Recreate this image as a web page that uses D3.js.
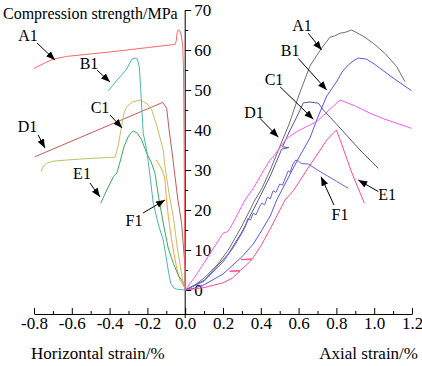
<html>
<head>
<style type="text/css">
	body { margin: 0; background: white; }
	svg text { font-family: "Liberation Serif", "DejaVu Serif", serif !important; fill: black; }
	.curve { fill: none; stroke-width: 1; }
	.axis path, .axis line { stroke: black; stroke-width: 1; }
	.note line { stroke: black; stroke-width: 1; }
</style>
<script src="https://d3js.org/d3.v7.min.js"></script>
</head>
<body>
<script type="text/javascript">

// horizontal strain side: [strain %, stress MPa]
var leftA1 = [[-0.80,55.4],[-0.75,56.6],[-0.70,57.7],[-0.627,58.4],[-0.4,59.5],[-0.2,60.6],[-0.054,61.4],
	[-0.047,62.3],[-0.043,64.3],[-0.036,65.0],[-0.028,64.8],[-0.02,63.5],[-0.013,61],[-0.009,55],
	[-0.007,45],[-0.005,30],[-0.003,15],[-0.001,5],[0,0]];
var leftB1 = [[-0.407,49.8],[-0.36,52.5],[-0.313,55],[-0.29,57],[-0.28,57.8],[-0.265,58],[-0.253,57.7],
	[-0.243,55.8],[-0.235,50],[-0.222,39.2],[-0.204,35],[-0.19,30],[-0.169,21.7],[-0.14,16],[-0.116,12.5],
	[-0.09,5],[-0.077,1.7],[-0.06,0.5],[-0.045,0.2],[0,0]];
var leftC1 = [[-0.763,29.6],[-0.75,31],[-0.733,31.7],[-0.7,32.2],[-0.627,32.5],[-0.5,32.9],[-0.371,33.2],
	[-0.355,36],[-0.34,40],[-0.324,44.2],[-0.31,45.8],[-0.28,47],[-0.235,47.5],[-0.2,46.5],[-0.177,45],
	[-0.15,41],[-0.116,35],[-0.107,30.8],[-0.085,24],[-0.063,18.3],[-0.04,10],[-0.013,2.5],[0,0]];
var leftD1 = [[-0.796,33.3],[-0.119,46.9],[-0.098,45.4],[-0.085,40],[-0.071,35],[-0.06,30.8],[-0.04,23],
	[-0.019,16.7],[-0.008,10],[0,5],[0,0]];
var leftE1 = [[-0.447,21.7],[-0.415,25],[-0.38,28.3],[-0.362,29.2],[-0.345,32],[-0.324,35.8],[-0.3,38.5],
	[-0.275,39.8],[-0.253,39.2],[-0.23,37.5],[-0.204,34.2],[-0.18,32],[-0.16,29.2],[-0.14,23],[-0.116,16.7],
	[-0.09,10.5],[-0.063,6.7],[-0.035,3.5],[-0.013,2.1],[0,0]];
var leftF1 = [[-0.154,32.5],[-0.142,31.7],[-0.128,30.5],[-0.116,29.2],[-0.107,27.5],[-0.1,23],[-0.089,18.3],
	[-0.075,13.5],[-0.063,10],[-0.045,5.5],[-0.028,2.5],[-0.01,1.2],[0,0.8]];

// axial strain side
var rightA1 = [[0,0],[0.05,1.2],[0.105,3.2],[0.17,6.3],[0.228,10],[0.3,16],[0.369,22.5],[0.405,25.3],
	[0.45,30],[0.502,36],[0.55,41.5],[0.6,48.5],[0.66,56],[0.722,60.5],[0.766,63.2],[0.79,63.5],[0.82,64.2],
	[0.845,64.4],[0.881,65],[0.94,63.5],[0.995,61.7],[1.06,59],[1.12,55.8],[1.14,54],[1.163,52.1]];
var rightB1 = [[0,0],[0.05,0.5],[0.1,1.3],[0.2,4],[0.3,8.3],[0.36,11.5],[0.396,14.2],[0.45,18.5],[0.484,22.5],
	[0.55,28.5],[0.6,33],[0.66,38],[0.7,43],[0.749,48.5],[0.8,52],[0.83,54.5],[0.863,56.3],[0.89,57.3],
	[0.916,58],[0.96,57.7],[1.0,56.5],[1.1,53],[1.198,49.8]];
var rightC1 = [[0,0],[0.1,2.4],[0.228,9],[0.3,14.5],[0.387,22.5],[0.45,28.5],[0.5,34],[0.51,35.2],[0.548,35.6],
	[0.515,35.8],[0.55,39.5],[0.6,44.2],[0.625,46.8],[0.66,47],[0.705,46.7],[0.731,45],[0.8,41.5],
	[0.925,35],[1.022,30.4]];
var rightD1 = [[0,0],[0.05,3.2],[0.1,6.8],[0.15,10.5],[0.2,14.2],[0.225,14.6],[0.25,16.5],[0.316,22.5],
	[0.36,25.4],[0.41,29.5],[0.449,32.5],[0.466,33.3],[0.5,35.5],[0.537,37.9],[0.59,39.6],[0.64,40.8],
	[0.696,42.1],[0.75,44.5],[0.819,47.5],[0.9,46],[0.977,44.2],[1.05,42.8],[1.198,40.4]];
var rightE1 = [[0,0],[0.1,0.6],[0.2,1.8],[0.25,3],[0.29,4.7],[0.235,4.7],[0.292,4.9],[0.33,6.5],[0.352,7.6],
	[0.295,7.6],[0.355,7.8],[0.4,11],[0.45,15.3],[0.528,22.5],[0.572,24.8],[0.65,30.5],[0.7,34],[0.749,37.5],
	[0.8,40],[0.82,37.5],[0.88,29.5],[0.948,21.7]];
var rightF1 = [[0,0],[0.1,2.2],[0.2,7],[0.26,11],[0.3,14.2],[0.32,16],[0.33,17.8],[0.345,17.5],[0.36,19.2],
	[0.375,18.8],[0.39,20.5],[0.405,21.7],[0.42,21.3],[0.435,23.2],[0.45,22.8],[0.465,24.8],[0.48,24.4],
	[0.5,26.5],[0.515,26.2],[0.53,28],[0.545,29.8],[0.555,29.4],[0.57,31.5],[0.585,32.5],[0.6,32.2],
	[0.615,31.6],[0.651,31.5],[0.7,30],[0.8,27.2],[0.863,25.4]];

var seriesNames = ['A1', 'B1', 'C1', 'D1', 'E1', 'F1'];
var leftColors = ['#ff6666', '#4db5b0', '#c2c062', '#c45a5a', '#3cab5a', '#ffa040'];
var rightColors = ['#6e6e6e', '#5555ff', '#55559c', '#ff55ff', '#ff4c8c', '#6666d4'];

var xTicks = [-0.8, -0.6, -0.4, -0.2, 0, 0.2, 0.4, 0.6, 0.8, 1.0, 1.2];
var yTicks = [0, 10, 20, 30, 40, 50, 60, 70];

// label [text x, text y, arrow from x, y, arrow to x, y] in data units
var leftNotes = [[-0.832,63.6,-0.784,61.75,-0.689,57.5],[-0.509,56.6,-0.467,55,-0.398,52],
	[-0.451,45.6,-0.398,43.75,-0.334,40.5],[-0.834,40.9,-0.778,38.75,-0.742,35.5],
	[-0.546,29.1,-0.504,26.75,-0.451,23.25],[-0.271,17.4,-0.223,19.25,-0.107,22.5]];
var rightNotes = [[0.618,66.1,0.651,64.2,0.722,60],[0.555,59.9,0.598,57.9,0.749,50],
	[0.47,52.6,0.502,50.8,0.678,42.7],[0.364,44.4,0.396,42.9,0.493,38.2],
	[1.068,23.9,1.022,24.6,0.916,27.5],[0.819,18.9,0.787,21.25,0.719,28.3]];

var serif = '"Liberation Serif", "DejaVu Serif", serif';

function draw() {
	var width = 422, height = 366, axisY = 314;

	var x = d3.scaleLinear().domain([-0.8, 1.2]).range([34, 412]);
	var y = d3.scaleLinear().domain([0, 70]).range([290, 10]);

	var svg = d3.select('body').append('svg')
		.attr('width', width)
		.attr('height', height)
		.style('font-family', serif);

	svg.append('defs').append('marker')
		.attr('id', 'head')
		.attr('markerUnits', 'userSpaceOnUse')
		.attr('markerWidth', 10).attr('markerHeight', 8)
		.attr('refX', 9).attr('refY', 3.5)
		.attr('orient', 'auto')
		.append('path').attr('d', 'M0,0 L9,3.5 L0,7 Z').attr('fill', 'black');

	var fmt = function(d) { return d.toFixed(1); };

	// x axis, ticks pointing up
	svg.append('g')
		.attr('class', 'axis')
		.attr('transform', 'translate(0,' + axisY + ')')
		.call(d3.axisBottom(x).tickValues(xTicks).tickFormat(fmt).tickSizeInner(-6).tickSizeOuter(0).tickPadding(3))
		.attr('font-family', serif)
		.call(function(g) { g.selectAll('text').attr('font-size', 17).style('font-family', serif).attr('dy', '0.72em'); });

	svg.append('g')
		.attr('class', 'axis')
		.attr('transform', 'translate(0,' + axisY + ')')
		.call(d3.axisBottom(x).tickValues(d3.range(-7, 12, 2).map(function(d) { return d / 10; }))
			.tickFormat('').tickSizeInner(-3).tickSizeOuter(0))
		.call(function(g) { g.select('.domain').remove(); });

	// y axis at zero strain, ticks and labels to the right
	svg.append('line')
		.attr('x1', x(0)).attr('x2', x(0))
		.attr('y1', y(70)).attr('y2', axisY + 4)
		.attr('stroke', 'black');

	svg.append('g')
		.attr('class', 'axis')
		.attr('transform', 'translate(' + x(0) + ',0)')
		.call(d3.axisRight(y).tickValues(yTicks).tickSizeInner(6).tickSizeOuter(0).tickPadding(3))
		.attr('font-family', serif)
		.call(function(g) {
			g.select('.domain').remove();
			g.selectAll('text').attr('font-size', 17).style('font-family', serif);
		});

	svg.append('g')
		.attr('class', 'axis')
		.attr('transform', 'translate(' + x(0) + ',0)')
		.call(d3.axisRight(y).tickValues(d3.range(5, 70, 10)).tickFormat('').tickSizeInner(3).tickSizeOuter(0))
		.call(function(g) { g.select('.domain').remove(); });

	var line = d3.line()
		.x(function(d) { return x(d[0]); })
		.y(function(d) { return y(d[1]); });

	var leftData = [leftA1, leftB1, leftC1, leftD1, leftE1, leftF1];
	var rightData = [rightA1, rightB1, rightC1, rightD1, rightE1, rightF1];

	// draw right side first, then left (A1 left over the axis)
	svg.selectAll('path.right')
		.data(rightData)
		.enter()
		.append('path')
			.attr('class', 'curve right')
			.attr('stroke', function(d, i) { return rightColors[i]; })
			.attr('d', line);

	svg.selectAll('path.left')
		.data(leftData.slice().reverse())
		.enter()
		.append('path')
			.attr('class', 'curve left')
			.attr('stroke', function(d, i) { return leftColors[5 - i]; })
			.attr('d', line);

	// labels with arrows
	var notes = leftNotes.map(function(n, i) { return { n: n, name: seriesNames[i] }; })
		.concat(rightNotes.map(function(n, i) { return { n: n, name: seriesNames[i] }; }));

	var g = svg.selectAll('g.note')
		.data(notes)
		.enter()
		.append('g')
			.attr('class', 'note');

	g.append('line')
		.attr('x1', function(d) { return x(d.n[2]); })
		.attr('y1', function(d) { return y(d.n[3]); })
		.attr('x2', function(d) { return x(d.n[4]); })
		.attr('y2', function(d) { return y(d.n[5]); })
		.attr('marker-end', 'url(#head)');

	g.append('text')
		.attr('x', function(d) { return x(d.n[0]); })
		.attr('y', function(d) { return y(d.n[1]); })
		.attr('dy', '0.35em')
		.attr('text-anchor', 'middle')
		.attr('font-size', 16)
		.style('font-family', serif)
		.text(function(d) { return d.name; });

	// titles
	svg.append('text')
		.attr('x', 3).attr('y', 19)
		.attr('font-size', 16)
		.style('font-family', serif)
		.text('Compression strength/MPa');

	svg.append('text')
		.attr('x', 31).attr('y', 359)
		.attr('font-size', 17)
		.style('font-family', serif)
		.text('Horizontal strain/%');

	svg.append('text')
		.attr('x', 418).attr('y', 359)
		.attr('text-anchor', 'end')
		.attr('font-size', 17)
		.style('font-family', serif)
		.text('Axial strain/%');
}

draw();

</script>
</body>
</html>
